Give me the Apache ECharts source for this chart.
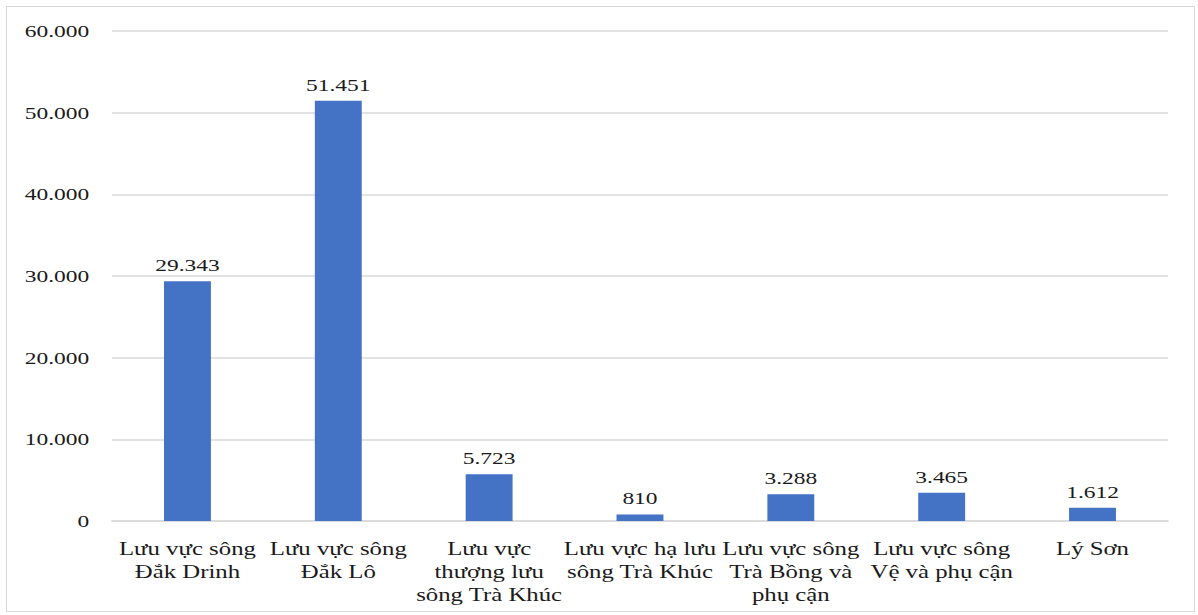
<!DOCTYPE html>
<html>
<head>
<meta charset="utf-8">
<script src="https://cdn.jsdelivr.net/npm/echarts@6/dist/echarts.min.js"></script>
<style>
  html, body { margin: 0; padding: 0; background: #fff; overflow: hidden; }
  #frame { position: absolute; left: 6px; top: 6px; width: 1189px; height: 606px; border: 1px solid #d9d9d9; box-sizing: border-box; }
  /* the reference is a horizontally stretched image: draw narrower, then stretch */
  #chart { position: absolute; left: 0; top: 0; width: 894px; height: 615px; transform-origin: 0 0; transform: scaleX(1.34); }
</style>
</head>
<body>
<div id="frame"></div>
<div id="chart"></div>
<script>
// lưu vực sông, diện tích / giá trị
const categories = [
  'Lưu vực sông\nĐắk Drinh',
  'Lưu vực sông\nĐắk Lô',
  'Lưu vực\nthượng lưu\nsông Trà Khúc',
  'Lưu vực hạ lưu\nsông Trà Khúc',
  'Lưu vực sông\nTrà Bồng và\nphụ cận',
  'Lưu vực sông\nVệ và phụ cận',
  'Lý Sơn'
]
const values = [29343, 51451, 5723, 810, 3288, 3465, 1612]
const yTicks = { min: 0, max: 60000, interval: 10000 }

// dấu chấm phân cách hàng nghìn
const fmt = v => String(v).replace(/\B(?=(\d{3})+(?!\d))/g, '.')

const chart = echarts.init(document.getElementById('chart'), null, { renderer: 'svg' })
chart.setOption({
  animation: false,
  textStyle: { fontFamily: 'Liberation Serif' },
  grid: { left: 83.6, right: 22.4, top: 31, bottom: 94, containLabel: false },
  xAxis: {
    type: 'category',
    data: categories,
    axisLine: { lineStyle: { color: '#d9d9d9', width: 1.5 } },
    axisTick: { show: false },
    axisLabel: {
      interval: 0,
      color: '#1a1a1a',
      fontSize: 18.5,
      lineHeight: 23,
      margin: 17,
      fontFamily: 'Liberation Serif'
    }
  },
  yAxis: {
    type: 'value',
    min: yTicks.min,
    max: yTicks.max,
    interval: yTicks.interval,
    axisLine: { show: false },
    axisTick: { show: false },
    splitLine: { lineStyle: { color: '#d9d9d9', width: 1.5 } },
    axisLabel: {
      color: '#1a1a1a',
      fontSize: 17.5,
      margin: 17,
      fontFamily: 'Liberation Serif',
      formatter: fmt
    }
  },
  series: [{
    type: 'bar',
    data: values,
    barWidth: 35,
    itemStyle: { color: '#4472c4' },
    label: {
      show: true,
      position: 'top',
      distance: 7,
      color: '#1a1a1a',
      fontSize: 17.5,
      fontFamily: 'Liberation Serif',
      formatter: p => fmt(p.value)
    }
  }]
})
</script>
</body>
</html>
